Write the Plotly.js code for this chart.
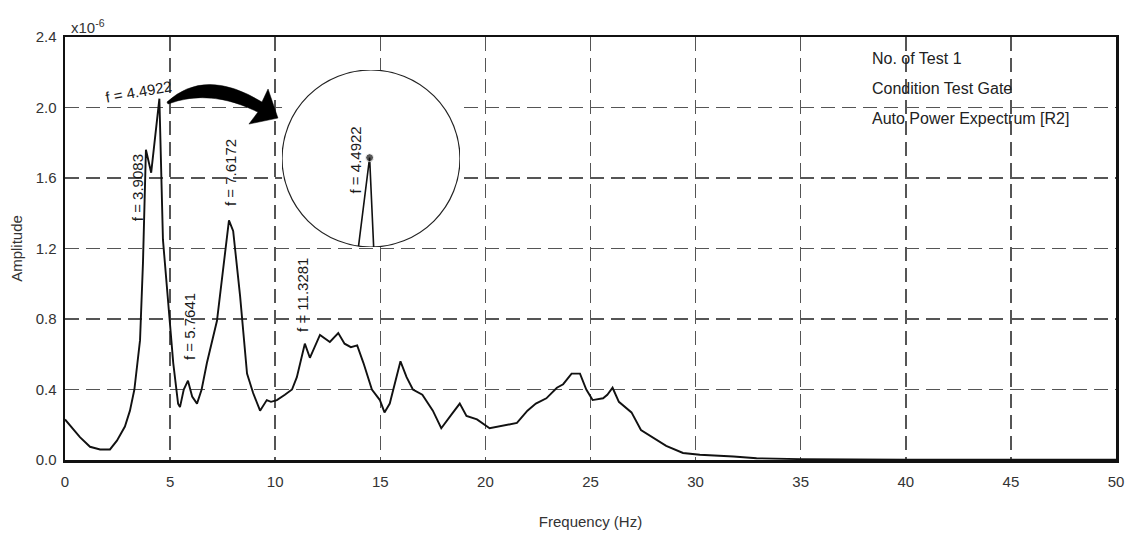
<!DOCTYPE html>
<html>
<head>
<meta charset="utf-8">
<script src="https://cdn.plot.ly/plotly-3.0.1.min.js"></script>
<style>html,body{margin:0;padding:0;background:#fff;}#chart{width:1131px;height:542px;}</style>
</head>
<body>
<div id="chart"></div>
<script>
// Frequency (Hz) and amplitude (x10^-6)
var freq = [0, 0.35, 0.71, 1.19, 1.67, 2.14, 2.47, 2.85, 3.09, 3.3, 3.57, 3.71, 3.85, 4.1, 4.49, 4.66, 5.0, 5.15, 5.38, 5.47, 5.65, 5.85, 6.05, 6.28, 6.5, 6.75, 7.23, 7.55, 7.8, 8.0, 8.33, 8.66, 8.95, 9.28, 9.6, 9.8, 10.08, 10.46, 10.8, 11.03, 11.41, 11.65, 12.13, 12.6, 13.0, 13.3, 13.6, 13.9, 14.2, 14.6, 14.98, 15.2, 15.45, 15.96, 16.25, 16.55, 17.0, 17.5, 17.9, 18.4, 18.78, 19.1, 19.6, 20.2, 20.7, 21.2, 21.5, 22.0, 22.4, 22.9, 23.4, 23.7, 24.1, 24.5, 24.8, 25.1, 25.6, 25.8, 26.05, 26.35, 26.95, 27.4, 27.95, 28.6, 29.4, 30.2, 31.8, 32.9, 35.0, 40, 50];
var amp = [0.23, 0.18, 0.13, 0.075, 0.06, 0.06, 0.11, 0.19, 0.28, 0.40, 0.68, 1.12, 1.76, 1.63, 2.05, 1.25, 0.74, 0.55, 0.32, 0.30, 0.40, 0.45, 0.36, 0.32, 0.40, 0.55, 0.79, 1.10, 1.36, 1.30, 0.93, 0.49, 0.38, 0.28, 0.34, 0.33, 0.34, 0.37, 0.40, 0.47, 0.66, 0.58, 0.71, 0.67, 0.72, 0.66, 0.64, 0.65, 0.55, 0.40, 0.34, 0.27, 0.32, 0.56, 0.47, 0.40, 0.37, 0.28, 0.18, 0.26, 0.32, 0.25, 0.23, 0.18, 0.19, 0.20, 0.21, 0.28, 0.32, 0.35, 0.41, 0.43, 0.49, 0.49, 0.40, 0.34, 0.35, 0.37, 0.41, 0.33, 0.27, 0.17, 0.13, 0.08, 0.04, 0.03, 0.02, 0.01, 0.005, 0.002, 0.001];

// Zoomed inset of the main peak
var insetFreq = [4.43, 4.4922, 4.515];
var insetAmp = [0.02, 2.04, 0.0];
var insetMarker = [0, 8, 0];

// Tick values / labels
var xTicks = [0, 5, 10, 15, 20, 25, 30, 35, 40, 45, 50];
var yTicks = [0.0, 0.4, 0.8, 1.2, 1.6, 2.0, 2.4];

// Peak labels
var peakLabels = ["f = 4.4922", "f = 3.9083", "f = 7.6172", "f = 5.7641", "f = 11.3281", "f = 4.4922"];
var infoLines = ["No. of Test 1", "Condition Test Gate", "Auto Power Expectrum [R2]"];

var FONT = "Liberation Sans, Arial, sans-serif";

var traces = [
  {x: freq, y: amp, type: 'scatter', mode: 'lines', line: {color: '#111', width: 1.9}, xaxis: 'x', yaxis: 'y', hoverinfo: 'skip'},
  {x: insetFreq, y: insetAmp, type: 'scatter', mode: 'lines+markers', line: {color: '#111', width: 1.6},
   marker: {color: '#111', size: insetMarker}, xaxis: 'x2', yaxis: 'y2', hoverinfo: 'skip'}
];

var lblFont = {family: FONT, size: 15, color: '#1a1a1a'};
var annotations = [
  {text: peakLabels[0], x: 3.5, y: 2.09, xref: 'x', yref: 'y', showarrow: false, textangle: -10, font: lblFont},
  {text: peakLabels[1], x: 3.43, y: 1.543, xref: 'x', yref: 'y', showarrow: false, textangle: -90, font: lblFont},
  {text: peakLabels[2], x: 7.85, y: 1.628, xref: 'x', yref: 'y', showarrow: false, textangle: -90, font: lblFont},
  {text: peakLabels[3], x: 5.95, y: 0.755, xref: 'x', yref: 'y', showarrow: false, textangle: -90, font: lblFont},
  {text: peakLabels[4], x: 11.27, y: 0.936, xref: 'x', yref: 'y', showarrow: false, textangle: -90, font: lblFont},
  {text: peakLabels[5], x: 13.8, y: 1.70, xref: 'x', yref: 'y', showarrow: false, textangle: -90, font: lblFont},
  {text: 'x10<sup>-6</sup>', x: 0.004, y: 1.024, xref: 'paper', yref: 'paper', xanchor: 'left', yanchor: 'middle', showarrow: false,
   font: {family: FONT, size: 15, color: '#333'}}
];
infoLines.forEach(function (t, i) {
  annotations.push({text: t, x: 0.766, y: 0.950 - i * 0.0709, xref: 'paper', yref: 'paper', xanchor: 'left', yanchor: 'middle',
    showarrow: false, font: {family: FONT, size: 16, color: '#222'}});
});

var shapes = [
  // white circle of the inset
  {type: 'circle', xref: 'x2', yref: 'y2', x0: 4.0, x1: 5.0, y0: 0, y1: 4.04, fillcolor: '#fff',
   line: {color: '#222', width: 1.2}, layer: 'below'},
  // curved arrow
  {type: 'path', xref: 'x', yref: 'y', layer: 'above', fillcolor: '#000', line: {color: '#000', width: 0.5},
   path: 'M 4.85,2.031 Q 6.66,2.23 9.37,2.031 L 9.66,2.105 L 10.13,1.94 L 8.75,1.906 L 9.18,1.974 Q 6.9,2.11 4.9,2.02 Z'}
];

var gridDash = '14px,7px';
var layout = {
  width: 1131, height: 542,
  margin: {l: 65, r: 15, t: 37, b: 82},
  paper_bgcolor: '#fff', plot_bgcolor: '#fff',
  showlegend: false,
  font: {family: FONT, size: 15, color: '#333'},
  xaxis: {
    range: [0, 50], tickvals: xTicks, ticktext: xTicks.map(String), ticks: '', ticklabelstandoff: 6,
    showgrid: true, gridcolor: '#555', gridwidth: 1.5, griddash: gridDash,
    showline: true, mirror: true, linecolor: '#111', linewidth: 2.5, zeroline: false,
    tickfont: {family: FONT, size: 15, color: '#333'},
    title: {text: 'Frequency (Hz)', standoff: 28, font: {family: FONT, size: 15, color: '#333'}}
  },
  yaxis: {
    range: [0, 2.4], tickvals: yTicks, ticktext: yTicks.map(function (v) { return v.toFixed(1); }), ticks: '', ticklabelstandoff: 3,
    showgrid: true, gridcolor: '#555', gridwidth: 1.5, griddash: gridDash,
    showline: true, mirror: true, linecolor: '#111', linewidth: 2.5, zeroline: false,
    tickfont: {family: FONT, size: 15, color: '#333'},
    title: {text: 'Amplitude', standoff: 10, font: {family: FONT, size: 15, color: '#333'}}
  },
  xaxis2: {domain: [0.2065, 0.3758], range: [4.0, 5.0], anchor: 'y2', visible: false, fixedrange: true},
  yaxis2: {domain: [0.5035, 0.922], range: [0, 4.04], anchor: 'x2', visible: false, fixedrange: true},
  annotations: annotations,
  shapes: shapes
};

Plotly.newPlot('chart', traces, layout, {displayModeBar: false, staticPlot: true});
</script>
</body>
</html>
